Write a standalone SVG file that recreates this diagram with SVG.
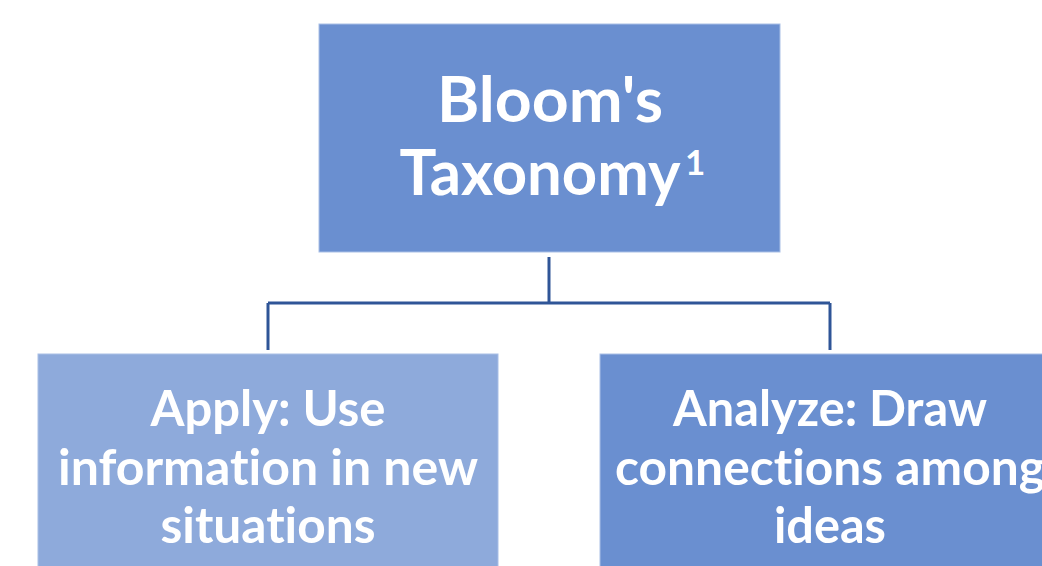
<svg xmlns="http://www.w3.org/2000/svg" width="1042" height="566" viewBox="0 0 1042 566">
  <style>
    .box { stroke: #a9bfe6; stroke-width: 1; }
    .main { fill: #6a8fd0; }
    .light { fill: #8eaadb; }
    .label { font-family: Lato, "Open Sans", "Liberation Sans", sans-serif; font-weight: bold; fill: #ffffff; text-anchor: middle; font-variant-ligatures: none; }
    .title { font-size: 63px; }
    .sup { font-size: 35px; text-anchor: start; }
    .sub { font-size: 50px; }
    .link { fill: none; stroke: #2f5597; stroke-width: 3; }
  </style>
  <rect width="1042" height="566" fill="#ffffff"/>

  <g id="connectors">
    <path class="link" d="M549 257 V303"/>
    <path class="link" d="M268 303 H830"/>
    <path class="link" d="M268 303 V350"/>
    <path class="link" d="M830 303 V350"/>
  </g>

  <g id="root">
    <rect class="box main" x="319" y="24" width="461" height="228"/>
    <text class="label title" x="550" y="122" textLength="226" lengthAdjust="spacingAndGlyphs">Bloom's</text>
    <text class="label title" x="540" y="195" textLength="281" lengthAdjust="spacingAndGlyphs">Taxonomy</text>
    <text class="label sup" x="685" y="175">1</text>
  </g>

  <g id="apply">
    <rect class="box light" x="38" y="354" width="460" height="230"/>
    <text class="label sub" x="268" y="426" textLength="235" lengthAdjust="spacingAndGlyphs">Apply: Use</text>
    <text class="label sub" x="268" y="485" textLength="420" lengthAdjust="spacingAndGlyphs">information in new</text>
    <text class="label sub" x="268" y="543" textLength="215" lengthAdjust="spacingAndGlyphs">situations</text>
  </g>

  <g id="analyze">
    <rect class="box main" x="600" y="354" width="460" height="230"/>
    <text class="label sub" x="830" y="426" textLength="314" lengthAdjust="spacingAndGlyphs">Analyze: Draw</text>
    <text class="label sub" x="830" y="485" textLength="430" lengthAdjust="spacingAndGlyphs">connections among</text>
    <text class="label sub" x="830" y="543" textLength="112" lengthAdjust="spacingAndGlyphs">ideas</text>
  </g>
</svg>
